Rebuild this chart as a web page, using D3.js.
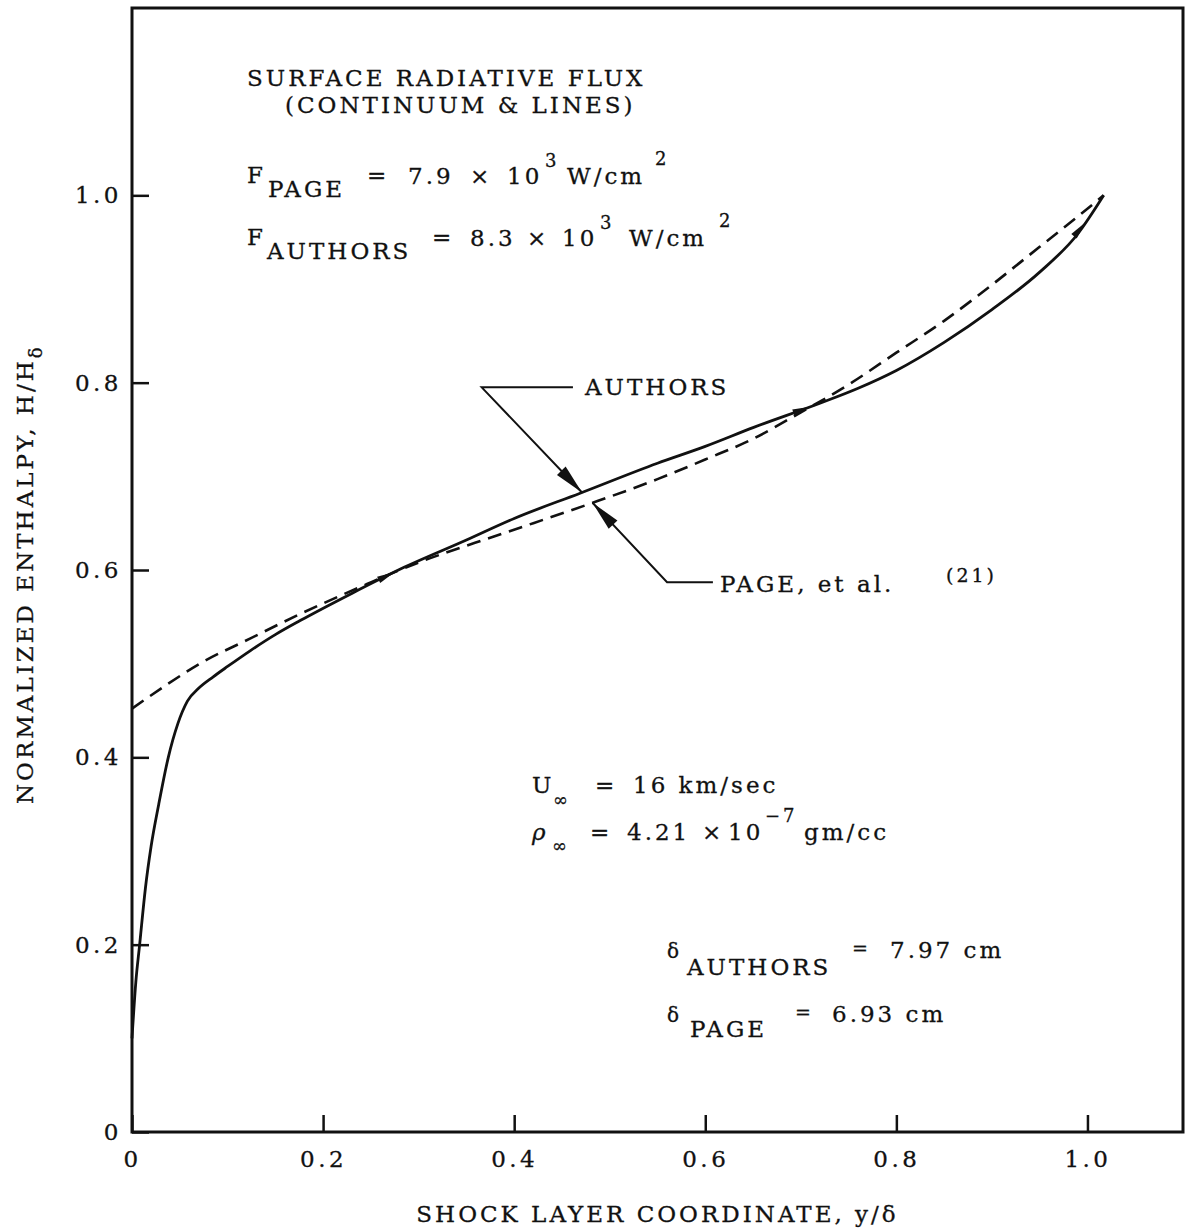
<!DOCTYPE html>
<html>
<head>
<meta charset="utf-8">
<script src="https://cdn.jsdelivr.net/npm/d3@7"></script>
<style>
  body { margin: 0; background: #fff; }
  svg text { font-family: "DejaVu Serif", "Liberation Serif", serif; fill: #111; letter-spacing: 3px;
             stroke: #111; stroke-width: 0.3px; }
</style>
</head>
<body>
<svg id="chart" width="1196" height="1232"></svg>
<script>
// tick values
const xTicks = [0, 0.2, 0.4, 0.6, 0.8, 1.0]
const yTicks = [0, 0.2, 0.4, 0.6, 0.8, 1.0]

// AUTHORS (solid)
const authorsX = [0, 0.004, 0.008, 0.014, 0.02, 0.028, 0.038, 0.048, 0.058, 0.07, 0.085, 0.1, 0.124, 0.15, 0.176,
  0.23, 0.281, 0.35, 0.4, 0.469, 0.55, 0.6, 0.65, 0.72, 0.76, 0.8, 0.85, 0.9, 0.95, 0.99, 1.017]
const authorsY = [0.1, 0.16, 0.2, 0.26, 0.305, 0.35, 0.4, 0.436, 0.46, 0.474, 0.486, 0.497, 0.514, 0.531, 0.546,
  0.575, 0.601, 0.632, 0.655, 0.682, 0.714, 0.732, 0.752, 0.778, 0.794, 0.813, 0.843, 0.878, 0.918, 0.959, 1.0]

// PAGE, et al. (dashed)
const pageX = [0, 0.037, 0.071, 0.124, 0.176, 0.246, 0.30, 0.359, 0.42, 0.48, 0.55, 0.6, 0.65, 0.696, 0.75,
  0.8, 0.85, 0.883, 0.95, 0.987, 1.017]
const pageY = [0.452, 0.478, 0.5, 0.527, 0.553, 0.585, 0.608, 0.629, 0.65, 0.671, 0.697, 0.718, 0.740, 0.766, 0.798,
  0.832, 0.866, 0.891, 0.945, 0.975, 1.0]

const svg = d3.select("#chart")

const x = d3.scaleLinear().domain([0, 1.1]).range([132, 1183])
const y = d3.scaleLinear().domain([0, 1.2]).range([1132, 8])

const fmt = d => d === 0 ? "0" : d.toFixed(1)

// frame
svg.append("rect")
  .attr("x", x(0)).attr("y", y(1.2))
  .attr("width", x(1.1) - x(0)).attr("height", y(0) - y(1.2))
  .attr("fill", "none").attr("stroke", "#111").attr("stroke-width", 3)

const gx = svg.append("g")
  .attr("transform", `translate(0,${y(0)})`)
  .call(d3.axisBottom(x).tickValues(xTicks).tickSize(-17).tickPadding(19).tickFormat(fmt))
const gy = svg.append("g")
  .attr("transform", `translate(${x(0)},0)`)
  .call(d3.axisLeft(y).tickValues(yTicks).tickSize(-17).tickPadding(10).tickFormat(fmt))

for (const g of [gx, gy]) {
  g.select(".domain").remove()
  g.selectAll("line").attr("stroke", "#111").attr("stroke-width", 2.5)
  g.selectAll("text").attr("font-size", 23).attr("fill", "#111")
    .style("font-family", "DejaVu Serif, serif").style("letter-spacing", "3.5px")
}

// curves
const line = d3.line().x(d => x(d[0])).y(d => y(d[1])).curve(d3.curveMonotoneX)
const authors = authorsX.map((v, i) => [v, authorsY[i]])
const page = pageX.map((v, i) => [v, pageY[i]])

svg.append("path").datum(page)
  .attr("d", line).attr("fill", "none").attr("stroke", "#111")
  .attr("stroke-width", 2.6).attr("stroke-dasharray", "14,8")
svg.append("path").datum(authors)
  .attr("d", line).attr("fill", "none").attr("stroke", "#111")
  .attr("stroke-width", 2.8)

// value on a series at a given x (linear between read points)
function at(xs, ys, v) {
  return d3.scaleLinear().domain(xs).range(ys).clamp(true)(v)
}

function arrowHead(px, py, ang, len, half) {
  const c = Math.cos(ang), s = Math.sin(ang)
  const bx = px - c * len, by = py - s * len
  return `M${px},${py}L${bx - s * half},${by + c * half}L${bx + s * half},${by - c * half}Z`
}

// small drafting marks on the solid curve
for (const v of [0.275, 0.71, 0.998]) {
  const px = x(v), py = y(at(authorsX, authorsY, v))
  const qx = x(v - 0.02), qy = y(at(authorsX, authorsY, v - 0.02))
  svg.append("path").attr("d", arrowHead(px, py, Math.atan2(py - qy, px - qx), 18, 3.5)).attr("fill", "#111")
}

// leader arrows
function leader(elbow, end, tipX, xs, ys) {
  const tx = x(tipX), ty = y(at(xs, ys, tipX))
  const ex = x(elbow[0]), ey = y(elbow[1])
  svg.append("path")
    .attr("d", `M${x(end[0])},${y(end[1])}L${ex},${ey}L${tx},${ty}`)
    .attr("fill", "none").attr("stroke", "#111").attr("stroke-width", 2)
  svg.append("path").attr("d", arrowHead(tx, ty, Math.atan2(ty - ey, tx - ex), 30, 6)).attr("fill", "#111")
}
leader([0.366, 0.795], [0.4615, 0.795], 0.471, authorsX, authorsY)
leader([0.56, 0.587], [0.608, 0.587], 0.482, pageX, pageY)

// text helper
function put(px, py, s, size = 23, extra = {}) {
  const t = svg.append("text").attr("x", px).attr("y", py).attr("font-size", size).text(s)
  for (const k in extra) t.attr(k, extra[k])
  return t
}

put(585, 395, "AUTHORS")
put(720, 592, "PAGE, et al.")
put(946, 582, "(21)", 19)

// flux block
put(247, 86, "SURFACE RADIATIVE FLUX")
put(285, 113, "(CONTINUUM & LINES)")
put(247, 183, "F"); put(268, 197, "PAGE")
put(367, 183, "="); put(408, 184, "7.9"); put(470, 184, "×"); put(507, 184, "10")
put(545, 167, "3", 18); put(567, 184, "W/cm"); put(655, 165, "2", 18)
put(247, 245, "F"); put(267, 259, "AUTHORS")
put(432, 245, "="); put(470, 246, "8.3"); put(527, 246, "×"); put(562, 246, "10")
put(600, 229, "3", 18); put(629, 246, "W/cm"); put(719, 227, "2", 18)

// free stream block
put(532, 793, "U"); put(553, 806, "∞", 18)
put(595, 793, "="); put(633, 793, "16 km/sec")
put(532, 840, "ρ", 23, {"font-style": "italic"}); put(552, 852, "∞", 18)
put(590, 840, "="); put(627, 840, "4.21"); put(702, 840, "×"); put(728, 840, "10")
put(765, 822, "−7", 18); put(804, 840, "gm/cc")

// shock thickness block
put(667, 958, "δ", 20); put(687, 975, "AUTHORS")
put(852, 955, "=", 19); put(890, 958, "7.97 cm")
put(667, 1022, "δ", 20); put(690, 1037, "PAGE")
put(795, 1019, "=", 19); put(832, 1022, "6.93 cm")

// axis titles
put((x(0) + x(1.1)) / 2, 1222, "SHOCK LAYER COORDINATE, y/δ", 23, {"text-anchor": "middle"})
const yt = svg.append("text").attr("transform", "translate(33,804) rotate(-90)").attr("font-size", 23)
yt.append("tspan").text("NORMALIZED ENTHALPY, H/H")
yt.append("tspan").attr("dy", 9).attr("font-size", 18).text("δ")
</script>
</body>
</html>
